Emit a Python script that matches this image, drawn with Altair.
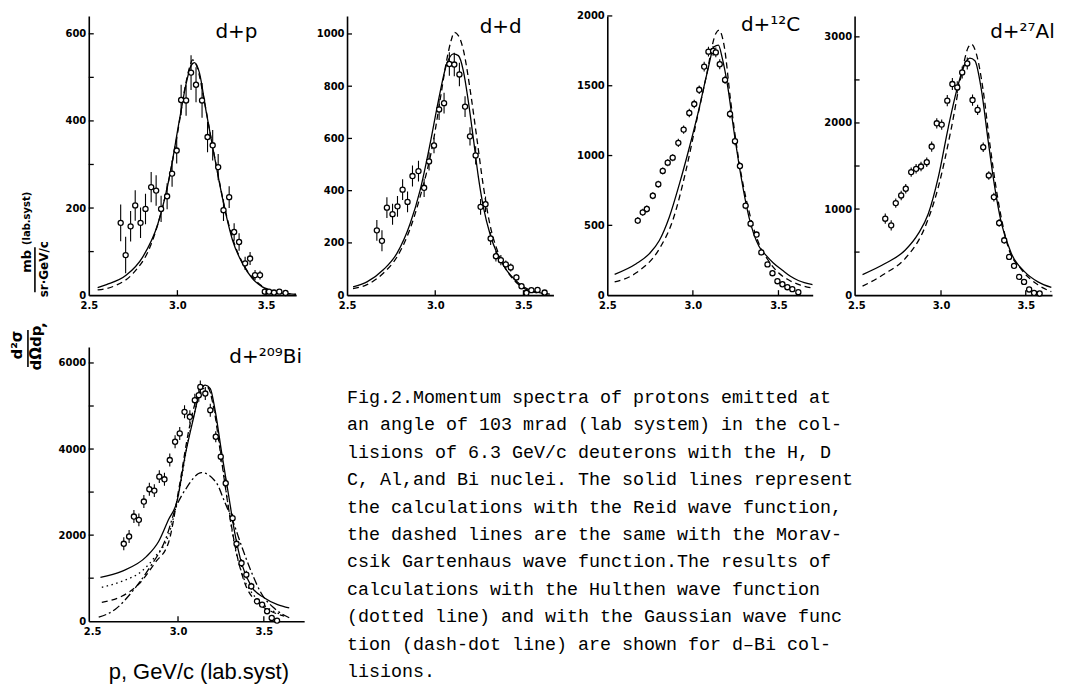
import altair as alt
import pandas as pd

FONT = "DejaVu Sans"

# ---------------- d+p ----------------
dp_p = [2.680, 2.708, 2.736, 2.762, 2.792, 2.820, 2.852, 2.880, 2.908, 2.942, 2.970, 2.996,
        3.021, 3.049, 3.077, 3.105, 3.139, 3.170, 3.199, 3.230, 3.260, 3.292, 3.320, 3.348,
        3.382, 3.410, 3.438, 3.466, 3.493, 3.517, 3.545, 3.575, 3.610]
dp_v = [166, 92, 158, 206, 166, 198, 248, 240, 198, 227, 279, 332,
        448, 447, 511, 483, 447, 363, 344, 294, 195, 225, 145, 122,
        73, 84, 46, 46, 8, 8, 6, 8, 5]
dp_e = [42, 42, 35, 35, 35, 35, 35, 35, 30, 30, 30, 30,
        35, 35, 40, 40, 40, 35, 35, 30, 25, 25, 20, 20,
        15, 15, 12, 10, 8, 6, 6, 5, 5]
dp_solid_p = [2.55, 2.60, 2.712, 2.805, 2.890, 2.955, 3.011, 3.049, 3.077, 3.096, 3.124, 3.161,
              3.199, 3.236, 3.273, 3.311, 3.367, 3.423, 3.479, 3.554, 3.67]
dp_solid_v = [17, 24, 46, 88, 164, 271, 401, 485, 527, 534, 511, 424,
              340, 260, 187, 126, 73, 38, 19, 7, 2]
dp_dash_p = [2.55, 2.65, 2.75, 2.85, 2.93, 3.00, 3.04, 3.07, 3.086, 3.11, 3.15, 3.19,
             3.23, 3.27, 3.32, 3.38, 3.45, 3.55, 3.67]
dp_dash_v = [12, 22, 50, 115, 225, 370, 470, 525, 540, 525, 450, 360,
             275, 195, 120, 65, 30, 8, 2]

# ---------------- d+d ----------------
dd_p = [2.669, 2.698, 2.726, 2.758, 2.786, 2.815, 2.843, 2.871, 2.905, 2.937, 2.965, 2.993,
        3.022, 3.050, 3.080, 3.108, 3.137, 3.169, 3.197, 3.229, 3.257, 3.285, 3.314, 3.344,
        3.372, 3.400, 3.428, 3.460, 3.489, 3.517, 3.545, 3.580, 3.620]
dd_v = [248, 208, 335, 310, 340, 404, 357, 456, 475, 411, 512, 573,
        711, 735, 885, 883, 845, 722, 608, 535, 338, 348, 217, 149,
        134, 118, 106, 68, 34, 9, 19, 20, 10]
dd_e = [40, 40, 40, 40, 40, 40, 40, 40, 40, 35, 35, 30,
        40, 40, 45, 45, 45, 40, 35, 35, 30, 30, 25, 20,
        20, 15, 15, 12, 10, 8, 8, 6, 5]
dd_solid_p = [2.534, 2.613, 2.707, 2.782, 2.858, 2.914, 2.971, 3.018, 3.065, 3.103, 3.131, 3.159,
              3.187, 3.216, 3.245, 3.275, 3.31, 3.35, 3.40, 3.45, 3.50, 3.56, 3.65]
dd_solid_v = [32, 51, 98, 159, 274, 401, 580, 745, 885, 924, 917, 860,
              745, 600, 450, 330, 235, 160, 100, 60, 32, 14, 4]
dd_dash_p = [2.534, 2.613, 2.707, 2.782, 2.858, 2.914, 2.99, 3.027, 3.065, 3.09, 3.108, 3.13,
             3.159, 3.197, 3.234, 3.27, 3.31, 3.35, 3.40, 3.45, 3.50, 3.56, 3.65]
dd_dash_v = [25, 40, 85, 145, 255, 376, 592, 745, 900, 975, 1006, 995,
             940, 790, 610, 430, 270, 175, 100, 55, 28, 12, 3]

# ---------------- d+12C ----------------
dc_p = [2.678, 2.707, 2.731, 2.766, 2.798, 2.824, 2.853, 2.882, 2.915, 2.946, 2.979, 3.008,
        3.037, 3.066, 3.091, 3.118, 3.134, 3.157, 3.188, 3.217, 3.246, 3.275, 3.308, 3.337,
        3.372, 3.400, 3.436, 3.465, 3.494, 3.523, 3.552, 3.581, 3.616]
dc_v = [534, 593, 617, 712, 795, 890, 949, 985, 1091, 1186, 1305, 1369,
        1471, 1637, 1744, 1749, 1739, 1654, 1542, 1298, 1103, 925, 641, 512,
        434, 306, 220, 157, 100, 78, 57, 43, 21]
dc_e = [25, 25, 25, 25, 25, 25, 25, 25, 30, 30, 30, 30,
        30, 35, 35, 35, 35, 35, 30, 30, 30, 25, 25, 25,
        20, 20, 15, 15, 12, 10, 10, 8, 8]
dc_solid_p = [2.543, 2.669, 2.746, 2.804, 2.862, 2.921, 2.979, 3.037, 3.085, 3.124, 3.149, 3.172,
              3.202, 3.240, 3.279, 3.328, 3.386, 3.424, 3.47, 3.523, 3.57, 3.616, 3.70]
dc_solid_v = [149, 225, 297, 391, 558, 795, 1056, 1340, 1601, 1779, 1791, 1696,
              1506, 1174, 866, 557, 350, 290, 230, 178, 135, 105, 75]
dc_dash_p = [2.543, 2.669, 2.804, 2.882, 2.959, 3.017, 3.076, 3.134, 3.153, 3.182, 3.221, 3.269,
             3.328, 3.386, 3.44, 3.50, 3.558, 3.62, 3.70]
dc_dash_v = [95, 160, 332, 534, 890, 1222, 1554, 1874, 1898, 1791, 1388, 961,
             600, 368, 250, 160, 110, 75, 50]

# ---------------- d+27Al ----------------
da_p = [2.671, 2.706, 2.733, 2.765, 2.792, 2.824, 2.853, 2.882, 2.916, 2.945, 2.975, 3.004,
        3.037, 3.067, 3.096, 3.125, 3.155, 3.186, 3.216, 3.249, 3.282, 3.312, 3.343, 3.373,
        3.402, 3.431, 3.461, 3.490, 3.520, 3.549, 3.582]
da_v = [888, 811, 1069, 1158, 1236, 1429, 1467, 1494, 1544, 1726, 1996, 1981,
        2259, 2452, 2413, 2587, 2691, 2266, 2151, 1718, 1390, 1139, 838, 637,
        444, 340, 212, 154, 66, 27, 19]
da_e = [60, 60, 55, 55, 55, 55, 55, 55, 55, 60, 60, 60,
        65, 70, 70, 70, 70, 65, 60, 55, 50, 50, 45, 40,
        35, 30, 25, 20, 15, 12, 10]
da_solid_p = [2.537, 2.670, 2.788, 2.866, 2.925, 2.984, 3.043, 3.092, 3.141, 3.170, 3.200, 3.239,
              3.278, 3.317, 3.357, 3.415, 3.494, 3.572, 3.651]
da_solid_v = [239, 367, 521, 714, 946, 1371, 1950, 2375, 2683, 2753, 2722, 2375,
              1795, 1255, 830, 483, 270, 154, 89]
da_dash_p = [2.537, 2.670, 2.788, 2.906, 2.984, 3.062, 3.121, 3.160, 3.180, 3.209, 3.249, 3.288,
             3.337, 3.396, 3.474, 3.572, 3.651]
da_dash_v = [104, 251, 425, 792, 1255, 1950, 2568, 2876, 2915, 2799, 2375, 1757,
             1100, 560, 300, 120, 40]

# ---------------- d+209Bi ----------------
db_p = [2.684, 2.715, 2.743, 2.772, 2.801, 2.833, 2.862, 2.891, 2.921, 2.952, 2.983, 3.010,
        3.038, 3.069, 3.098, 3.121, 3.130, 3.159, 3.188, 3.220, 3.249, 3.278, 3.318, 3.341,
        3.370, 3.398, 3.427, 3.460, 3.490, 3.519, 3.546, 3.577]
db_v = [1799, 1969, 2432, 2355, 2780, 3066, 3035, 3359, 3297, 3745, 4170, 4363,
        4865, 4749, 5135, 5251, 5444, 5290, 4903, 4286, 3822, 3205, 2394, 1799,
        1351, 1081, 811, 463, 386, 232, 77, 15]
db_e = [150, 150, 150, 150, 150, 150, 150, 150, 150, 150, 150, 150,
        150, 150, 150, 150, 150, 150, 150, 130, 120, 110, 100, 100,
        90, 90, 80, 70, 60, 60, 50, 40]
db_solid_p = [2.548, 2.672, 2.817, 2.887, 2.945, 2.992, 3.044, 3.092, 3.130, 3.159, 3.188, 3.216,
              3.255, 3.293, 3.331, 3.370, 3.427, 3.504, 3.580, 3.648]
db_solid_v = [1020, 1160, 1506, 1853, 2363, 2757, 3900, 4749, 5367, 5483, 5405, 4903,
              3900, 2973, 2046, 1351, 811, 541, 386, 309]
db_dot_p = [2.556, 2.672, 2.788, 2.868, 2.945, 3.006, 3.063, 3.111, 3.149, 3.178, 3.216, 3.255,
            3.293, 3.331, 3.379, 3.446, 3.523, 3.600]
db_dot_v = [788, 927, 1160, 1506, 2000, 3000, 4286, 5058, 5405, 5405, 4826, 3745,
            2664, 1737, 1042, 579, 309, 154]
db_dash_p = [2.556, 2.672, 2.770, 2.868, 2.945, 3.006, 3.063, 3.111, 3.140, 3.169, 3.207, 3.245,
             3.293, 3.341, 3.389, 3.466, 3.542, 3.619]
db_dash_v = [440, 579, 857, 1367, 1830, 3100, 4440, 5212, 5444, 5459, 4981, 3977,
             2664, 1583, 888, 425, 232, 116]
db_dashdot_p = [2.538, 2.635, 2.730, 2.828, 2.927, 2.990, 3.050, 3.137, 3.223, 3.274, 3.322, 3.370,
                3.427, 3.485, 3.561, 3.648]
db_dashdot_v = [93, 278, 672, 1205, 1900, 2665, 3100, 3452, 3220, 2750, 2300, 1750,
                1150, 650, 300, 80]

# ---------------- texts ----------------
x_tick_labels = [2.5, 3.0, 3.5]
caption_lines = [
    "Fig.2.Momentum spectra of protons emitted at",
    "an angle of 103 mrad (lab system) in the col-",
    "lisions of 6.3 GeV/c deuterons with the H, D",
    "C, Al,and Bi nuclei. The solid lines represent",
    "the calculations with the Reid wave function,",
    "the dashed lines are the same with the Morav-",
    "csik Gartenhaus wave function.The results of",
    "calculations with the Hulthen wave function",
    "(dotted line) and with the Gaussian wave func",
    "tion (dash-dot line) are shown for d\u2013Bi col-",
    "lisions.",
]
caption_index = list(range(len(caption_lines)))
ytitle_pieces = ["d\u00b2\u03c3", "d\u03a9dp", ",", "mb", "sr\u00b7GeV/c", "(lab.syst)"]
xtitle_text = "p, GeV/c (lab.syst)"

SOLID = None
DASH = [6, 4]
DOT = [1.5, 3.5]
DASHDOT = [8, 3, 2, 3]


def frame(**cols):
    return pd.DataFrame(cols)


def guide(x0, x1, y0, y1):
    # invisible box that fixes the cell's layout bounds
    return (alt.Chart(frame(g=[0]))
            .mark_rule(strokeOpacity=0, strokeWidth=0.5)
            .encode(x=alt.value(x0), x2=alt.value(x1), y=alt.value(y0), y2=alt.value(y1)))


def label(text, x, y, size, angle=0, align="center", baseline="middle", font=FONT,
          weight="normal"):
    kw = dict(align=align, baseline=baseline, font=font, fontSize=size,
              fontWeight=weight, color="black")
    if angle:
        kw["angle"] = angle
    return (alt.Chart(frame(t=[text])).mark_text(**kw)
            .encode(x=alt.value(x), y=alt.value(y), text="t:N"))


def panel(title, tdx, tdy, xdom, ydom, ylab, ytick, w, h, pts, curves, box, extra=()):
    xs = alt.Scale(domain=xdom, nice=False, zero=False)
    ys = alt.Scale(domain=ydom, nice=False, zero=False)
    common = dict(title=None, ticks=False, grid=False,
                  domainColor="black", domainWidth=1.6, labelColor="black",
                  labelFont=FONT, labelFontSize=10, labelFontWeight="bold",
                  labelFlush=False, labelOverlap=False)
    xax = alt.Axis(values=x_tick_labels, format=".1f", labelPadding=5, **common)
    yax = alt.Axis(values=ylab, format="d", labelPadding=3, **common)
    X = alt.X("p:Q", scale=xs, axis=xax)
    Y = alt.Y("v:Q", scale=ys, axis=yax)
    layers = [guide(*box)]
    for cp, cv, dash in curves:
        kw = dict(color="black", strokeWidth=1.3, interpolate="monotone", clip=True)
        if dash is not None:
            kw["strokeDash"] = dash
        layers.append(alt.Chart(frame(p=cp, v=cv)).mark_line(**kw).encode(x=X, y=Y))
    p, v, e = pts
    lo = [a - b for a, b in zip(v, e)]
    hi = [a + b for a, b in zip(v, e)]
    layers.append(
        alt.Chart(frame(p=p, lo=lo, hi=hi))
        .mark_rule(color="black", strokeWidth=1.1, clip=True)
        .encode(x=X, y=alt.Y("lo:Q", scale=ys, axis=yax), y2="hi:Q")
    )
    layers.append(
        alt.Chart(frame(p=p, v=v))
        .mark_point(shape="circle", filled=True, fill="white", stroke="black",
                    strokeWidth=1.3, size=26, opacity=1)
        .encode(x=X, y=Y)
    )
    layers.append(
        alt.Chart(frame(p=[3.0, 3.5]))
        .mark_rule(color="black", strokeWidth=1.3)
        .encode(x=X, y=alt.value(h), y2=alt.value(h - 5))
    )
    layers.append(
        alt.Chart(frame(v=ytick))
        .mark_rule(color="black", strokeWidth=1.3)
        .encode(y=Y, x=alt.value(0), x2=alt.value(5))
    )
    layers.append(label(title, tdx, tdy, 20, align="left", baseline="alphabetic"))
    layers += list(extra)
    return alt.layer(*layers).properties(width=w, height=h)


H = 280
p1 = panel("d+p", 127, 22, [2.5, 3.67], [0, 641], [0, 200, 400, 600],
           [100, 200, 300, 400, 500, 600], 208, H, (dp_p, dp_v, dp_e),
           [(dp_dash_p, dp_dash_v, DASH), (dp_solid_p, dp_solid_v, SOLID)],
           (-38, 214, -7, H + 20))
p2 = panel("d+d", 133, 17, [2.5, 3.67], [0, 1069], [0, 200, 400, 600, 800, 1000],
           [200, 400, 600, 800, 1000], 207, H, (dd_p, dd_v, dd_e),
           [(dd_dash_p, dd_dash_v, DASH), (dd_solid_p, dd_solid_v, SOLID)],
           (-45, 213, -7, H + 20))
p3 = panel("d+\u00b9\u00b2C", 134, 15, [2.5, 3.70], [0, 2000], [0, 500, 1000, 1500, 2000],
           [500, 1000, 1500, 2000], 206, H, (dc_p, dc_v, dc_e),
           [(dc_dash_p, dc_dash_v, DASH), (dc_solid_p, dc_solid_v, SOLID)],
           (-48, 212, -7, H + 20))
p4 = panel("d+\u00b2\u2077Al", 136, 22, [2.49, 3.655], [0, 3243], [0, 1000, 2000, 3000],
           [500, 1000, 1500, 2000, 2500, 3000], 198, H, (da_p, da_v, da_e),
           [(da_dash_p, da_dash_v, DASH), (da_solid_p, da_solid_v, SOLID)],
           (-36, 204, -7, H + 20))

HB = 275
WB = 216
bi_extra = [label(xtitle_text, 20, 333, 22, align="left", baseline="alphabetic",
                  font="Liberation Sans")]
p5 = panel("d+\u00b2\u2070\u2079Bi", 141, 16, [2.48, 3.735], [0, 6371], [0, 2000, 4000, 6000],
           [1000, 2000, 3000, 4000, 5000, 6000], WB, HB, (db_p, db_v, db_e),
           [(db_dashdot_p, db_dashdot_v, DASHDOT), (db_dash_p, db_dash_v, DASH),
            (db_dot_p, db_dot_v, DOT), (db_solid_p, db_solid_v, SOLID)],
           (-38, WB + 43, -12, HB + 40), extra=bi_extra)

caption = alt.layer(
    guide(0, 690, -12, 300),
    alt.Chart(frame(i=caption_index, t=caption_lines))
    .mark_text(align="left", baseline="alphabetic", font="Liberation Mono",
               fontSize=18.4, color="black")
    .encode(
        x=alt.value(0),
        y=alt.Y("i:Q", scale=alt.Scale(domain=[0, 10], range=[56, 331]), axis=None),
        text="t:N",
    ),
).properties(width=690, height=275)

# rotated y-axis title, a narrow column at the far left (origin at page y = 15)
ytitle = alt.layer(
    guide(0, 43, 0, 600),
    label(ytitle_pieces[0], 9, 330, 15, angle=270, weight="bold"),
    label(ytitle_pieces[1], 28, 333, 15, angle=270, weight="bold"),
    label(ytitle_pieces[2], 32, 310, 15, angle=270, weight="bold"),
    label(ytitle_pieces[3], 19, 246, 13, angle=270, weight="bold"),
    label(ytitle_pieces[4], 36, 254, 12, angle=270, weight="bold"),
    label(ytitle_pieces[5], 19, 203, 10, angle=270, weight="bold"),
    alt.Chart(frame(g=[0])).mark_rule(color="black", strokeWidth=1.6)
    .encode(x=alt.value(20), y=alt.value(315), y2=alt.value(352)),
    alt.Chart(frame(g=[0])).mark_rule(color="black", strokeWidth=1.6)
    .encode(x=alt.value(27), y=alt.value(232), y2=alt.value(277)),
).properties(width=43, height=600)

row1 = alt.hconcat(p1, p2, p3, p4, spacing=0)
row2 = alt.hconcat(p5, caption, spacing=0)
grid = alt.vconcat(row1, row2, spacing=20)

chart = (
    alt.hconcat(ytitle, grid, spacing=0)
    .properties(padding=0, background="white")
    .configure_view(stroke=None)
)

chart.save("out.html", embed_options={"renderer": "svg", "actions": False})
